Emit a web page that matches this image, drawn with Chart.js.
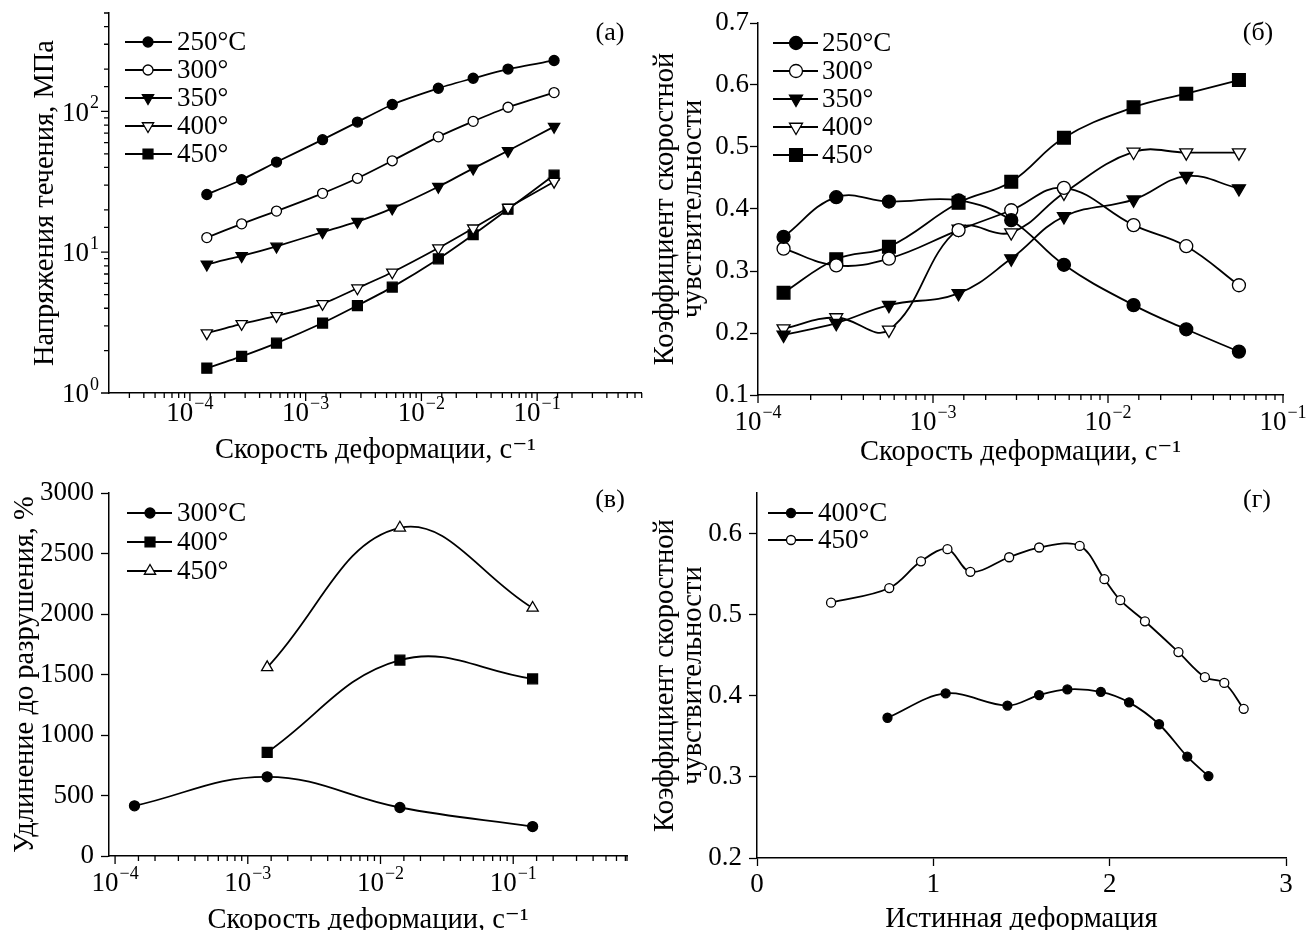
<!DOCTYPE html>
<html>
<head>
<meta charset="utf-8">
<title>Скоростная чувствительность</title>
<script src="https://cdn.jsdelivr.net/npm/chart.js@4.4.1/dist/chart.umd.min.js"></script>
<style>
  body { margin: 0; background: #fff; }
  #fig { position: relative; width: 1307px; height: 930px; overflow: hidden; background: #fff; }
  #fig canvas { position: absolute; }
</style>
</head>
<body>
<div id="fig">
  <canvas id="chart-a" width="650" height="470" style="left:0;top:0"></canvas>
  <canvas id="chart-b" width="657" height="470" style="left:650px;top:0"></canvas>
  <canvas id="chart-c" width="650" height="470" style="left:0;top:470px"></canvas>
  <canvas id="chart-d" width="657" height="470" style="left:650px;top:470px"></canvas>
</div>
<script>
const SERIF = '"Liberation Serif", "Times New Roman", "DejaVu Serif", serif';
Chart.defaults.font.family = SERIF;
Chart.defaults.color = '#000';
Chart.defaults.animation = false;

// --- (а) flow stress vs strain rate ---
const rateA = [1.4e-4, 2.8e-4, 5.6e-4, 1.4e-3, 2.8e-3, 5.6e-3, 1.4e-2, 2.8e-2, 5.6e-2, 1.4e-1];
const stressA250 = [25.7, 32.7, 43.7, 63, 84, 112, 146, 172, 200, 230];
const stressA300 = [12.7, 15.9, 19.6, 26.2, 33.5, 44.6, 66, 85, 107, 136];
const stressA350 = [8.2, 9.4, 11, 13.9, 16.5, 20.5, 29.2, 39.4, 52.5, 78];
const stressA400 = [2.66, 3.1, 3.53, 4.3, 5.55, 7.2, 10.7, 14.8, 20.7, 31.7];
const stressA450 = [1.5, 1.82, 2.26, 3.14, 4.18, 5.65, 8.96, 13.3, 20.2, 35.3];

// --- (б) m vs strain rate ---
const rateB = [1.4e-4, 2.8e-4, 5.6e-4, 1.4e-3, 2.8e-3, 5.6e-3, 1.4e-2, 2.8e-2, 5.6e-2];
const mB250 = [0.355, 0.419, 0.412, 0.414, 0.382, 0.31, 0.245, 0.206, 0.17];
const mB300 = [0.336, 0.309, 0.32, 0.366, 0.398, 0.434, 0.374, 0.34, 0.277];
const mB350 = [0.197, 0.216, 0.245, 0.264, 0.32, 0.388, 0.415, 0.453, 0.433];
const mB400 = [0.207, 0.225, 0.205, 0.368, 0.362, 0.426, 0.492, 0.491, 0.491];
const mB450 = [0.265, 0.319, 0.339, 0.41, 0.444, 0.515, 0.564, 0.586, 0.608];

// --- (в) elongation to failure ---
const rateC300 = [1.4e-4, 1.4e-3, 1.4e-2, 1.4e-1];
const elongC300 = [415, 655, 401, 243];
const rateC400 = [1.4e-3, 1.4e-2, 1.4e-1];
const elongC400 = [857, 1620, 1465];
const rateC450 = [1.4e-3, 1.4e-2, 1.4e-1];
const elongC450 = [1560, 2714, 2051];

// --- (г) m vs true strain ---
const strainD400 = [0.74, 1.07, 1.42, 1.60, 1.76, 1.95, 2.11, 2.28, 2.44, 2.56];
const mD400 = [0.373, 0.403, 0.388, 0.401, 0.408, 0.405, 0.392, 0.365, 0.325, 0.301];
const strainD450 = [0.42, 0.75, 0.93, 1.08, 1.21, 1.43, 1.60, 1.83, 1.97, 2.06, 2.20, 2.39, 2.54, 2.65, 2.76];
const mD450 = [0.515, 0.533, 0.566, 0.581, 0.553, 0.571, 0.583, 0.585, 0.544, 0.518, 0.492, 0.454, 0.423, 0.416, 0.384];

const xTitle = 'Скорость деформации, с⁻¹';
const mTitle = ['Коэффициент скоростной', 'чувствительности'];

const TITLE_FONT = { size: 28.5, lineHeight: 1.0 };
const TICK_FONT = { size: 27 };

// marker looks
const DOT = { pointStyle: 'circle', pointBackgroundColor: '#000' };
const RING = { pointStyle: 'circle', pointBackgroundColor: '#fff' };
const TRI_DOWN = { pointStyle: 'triangle', pointRotation: 180, pointBackgroundColor: '#000' };
const TRI_DOWN_OPEN = { pointStyle: 'triangle', pointRotation: 180, pointBackgroundColor: '#fff' };
const TRI_UP_OPEN = { pointStyle: 'triangle', pointRotation: 0, pointBackgroundColor: '#fff' };
const SQUARE = { pointStyle: 'rect', pointBackgroundColor: '#000' };

function series(label, xs, ys, look, radius, tension) {
  return Object.assign({
    label,
    data: xs.map((x, i) => ({ x, y: ys[i] })),
    borderColor: '#000',
    borderWidth: 1.8,
    pointBorderColor: '#000',
    pointBorderWidth: 1.3,
    pointRadius: radius,
    tension,
    fill: false
  }, look);
}

function logAxis(min, max, size, title, titlePad) {
  return {
    type: 'logarithmic', min, max,
    grid: { display: false },
    border: { color: '#000', width: 1.5 },
    ticks: { display: false },
    title: { display: true, text: title, color: '#000', font: TITLE_FONT, padding: titlePad },
    afterFit: s => { if (s.isHorizontal()) s.height = size; else s.width = size; }
  };
}

function linAxis(min, max, step, size, title, titlePad, tickPad, fmt) {
  return {
    type: 'linear', min, max,
    grid: { drawOnChartArea: false, tickLength: 8, tickColor: '#000', tickWidth: 1.3 },
    border: { color: '#000', width: 1.5 },
    ticks: { stepSize: step, includeBounds: false, padding: tickPad, autoSkip: false, maxRotation: 0,
             color: '#000', font: TICK_FONT, callback: fmt },
    title: { display: true, text: title, color: '#000', font: TITLE_FONT, padding: titlePad },
    afterFit: s => { if (s.isHorizontal()) s.height = size; else s.width = size; }
  };
}

// per-panel decorations: legend placement, panel letter, log tick labels
const decor = {
  'chart-a': { letter: '(а)', lx: 610, ly: 33, leg: { x1: 125, x2: 172, xm: 148, xt: 177, y0: 42, dy: 28 },
               logs: { x: { lab: 21 }, y: { lab: 10 } } },
  'chart-b': { letter: '(б)', lx: 608, ly: 33, leg: { x1: 123, x2: 168, xm: 146, xt: 172, y0: 43, dy: 28 },
               logs: { x: { lab: 28 } } },
  'chart-c': { letter: '(в)', lx: 610, ly: 30, leg: { x1: 127, x2: 172, xm: 150, xt: 177, y0: 43, dy: 29 },
               logs: { x: { lab: 28 } } },
  'chart-d': { letter: '(г)', lx: 607, ly: 30, leg: { x1: 118, x2: 163, xm: 141, xt: 168, y0: 43, dy: 27 },
               logs: {} }
};

function drawPower(ctx, x, y, exp, align) {
  ctx.textBaseline = 'middle';
  ctx.textAlign = 'left';
  ctx.font = '27px ' + SERIF;
  const bw = ctx.measureText('10').width;
  ctx.font = '18px ' + SERIF;
  const ew = ctx.measureText(exp).width;
  const left = align === 'right' ? x - bw - ew - 1 : x - (bw + ew + 1) / 2;
  ctx.font = '27px ' + SERIF;
  ctx.fillText('10', left, y);
  ctx.font = '18px ' + SERIF;
  ctx.fillText(exp, left + bw + 1, y - 10);
}

function drawLogAxis(ctx, axis, cfg) {
  const horiz = axis.isHorizontal();
  ctx.save();
  ctx.strokeStyle = '#000';
  ctx.fillStyle = '#000';
  ctx.lineWidth = 1.3;
  ctx.beginPath();
  const majors = [];
  axis.ticks.forEach(t => {
    const e = Math.log10(t.value);
    const major = Math.abs(e - Math.round(e)) < 1e-6;
    const p = axis.getPixelForValue(t.value);
    if (!major && t.value === axis.min) return;
    const len = major ? 8 : 5;
    if (horiz) { ctx.moveTo(p, axis.top); ctx.lineTo(p, axis.top + len); }
    else { ctx.moveTo(axis.right, p); ctx.lineTo(axis.right - len, p); }
    if (major) majors.push({ p, e: Math.round(e) });
  });
  ctx.stroke();
  majors.forEach(m => {
    const exp = m.e < 0 ? '−' + (-m.e) : String(m.e);
    if (horiz) drawPower(ctx, m.p, axis.top + cfg.lab, exp, 'center');
    else drawPower(ctx, axis.right - cfg.lab, m.p + 2, exp, 'right');
  });
  ctx.restore();
}

const decorPlugin = {
  id: 'decor',
  afterDraw(chart) {
    const d = decor[chart.canvas.id];
    if (!d) return;
    const ctx = chart.ctx;
    Object.keys(d.logs).forEach(id => drawLogAxis(ctx, chart.scales[id], d.logs[id]));

    // legend: line with marker, then label
    const L = d.leg;
    ctx.save();
    chart.data.datasets.forEach((ds, i) => {
      const y = L.y0 + i * L.dy;
      ctx.strokeStyle = '#000';
      ctx.lineWidth = 1.8;
      ctx.beginPath();
      ctx.moveTo(L.x1, y);
      ctx.lineTo(L.x2, y);
      ctx.stroke();
      ctx.fillStyle = ds.pointBackgroundColor;
      ctx.lineWidth = ds.pointBorderWidth;
      Chart.helpers.drawPoint(ctx, {
        pointStyle: ds.pointStyle,
        rotation: ds.pointRotation || 0,
        radius: ds.pointRadius,
        borderWidth: ds.pointBorderWidth
      }, L.xm, y);
      ctx.fillStyle = '#000';
      ctx.font = '27px ' + SERIF;
      ctx.textAlign = 'left';
      ctx.textBaseline = 'middle';
      ctx.fillText(ds.label, L.xt, y + 1);
    });
    ctx.font = '26px ' + SERIF;
    ctx.textAlign = 'center';
    ctx.textBaseline = 'middle';
    ctx.fillText(d.letter, d.lx, d.ly);
    ctx.restore();
  }
};

function baseOptions(pad, scales) {
  return {
    responsive: false,
    animation: false,
    layout: { padding: pad },
    plugins: { legend: { display: false }, tooltip: { enabled: false } },
    scales
  };
}

// (а)
new Chart(document.getElementById('chart-a'), {
  type: 'line',
  data: { datasets: [
    series('250°C', rateA, stressA250, DOT, 5, 0.2),
    series('300°', rateA, stressA300, RING, 5, 0.2),
    series('350°', rateA, stressA350, TRI_DOWN, 6.5, 0.2),
    series('400°', rateA, stressA400, TRI_DOWN_OPEN, 6.5, 0.2),
    series('450°', rateA, stressA450, SQUARE, 7, 0.2)
  ] },
  options: baseOptions({ top: 13, right: 8, left: 0, bottom: 0 }, {
    x: logAxis(2e-5, 0.8, 77, xTitle, { top: 0, bottom: 5 }),
    y: logAxis(1, 500, 109, 'Напряжения течения, МПа', { top: 31, bottom: 0 })
  }),
  plugins: [decorPlugin]
});

// (б)
new Chart(document.getElementById('chart-b'), {
  type: 'line',
  data: { datasets: [
    series('250°C', rateB, mB250, DOT, 6.5, 0.4),
    series('300°', rateB, mB300, RING, 6.5, 0.4),
    series('350°', rateB, mB350, TRI_DOWN, 7.5, 0.4),
    series('400°', rateB, mB400, TRI_DOWN_OPEN, 7.5, 0.4),
    series('450°', rateB, mB450, SQUARE, 9, 0.4)
  ] },
  options: baseOptions({ top: 23, right: 24, left: 0, bottom: 0 }, {
    x: logAxis(1e-4, 1e-1, 75, xTitle, { top: 0, bottom: 3 }),
    y: linAxis(0.1, 0.7, 0.1, 108, mTitle, { top: 1, bottom: 0 }, 1, v => v.toFixed(1))
  }),
  plugins: [decorPlugin]
});

// (в)
new Chart(document.getElementById('chart-c'), {
  type: 'line',
  data: { datasets: [
    series('300°C', rateC300, elongC300, DOT, 5, 0.4),
    series('400°', rateC400, elongC400, SQUARE, 7, 0.4),
    series('450°', rateC450, elongC450, TRI_UP_OPEN, 6.5, 0.4)
  ] },
  options: baseOptions({ top: 19, right: 23, left: 0, bottom: 0 }, {
    x: logAxis(9e-5, 0.72, 84, xTitle, { top: 0, bottom: 5 }),
    y: linAxis(0, 3000, 500, 109, 'Удлинение до разрушения, %', { top: 11, bottom: 0 }, 7, v => String(v))
  }),
  plugins: [decorPlugin]
});

// (г)
new Chart(document.getElementById('chart-d'), {
  type: 'line',
  data: { datasets: [
    series('400°C', strainD400, mD400, DOT, 4.5, 0.35),
    series('450°', strainD450, mD450, RING, 4.5, 0.35)
  ] },
  options: baseOptions({ top: 16, right: 21, left: 0, bottom: 0 }, {
    x: linAxis(0, 3, 1, 82, 'Истинная деформация', { top: 0, bottom: 6 }, 3, v => String(v)),
    y: linAxis(0.2, 0.65, 0.1, 107, mTitle, { top: 1, bottom: 0 }, 7, v => v.toFixed(1))
  }),
  plugins: [decorPlugin]
});
</script>
</body>
</html>
